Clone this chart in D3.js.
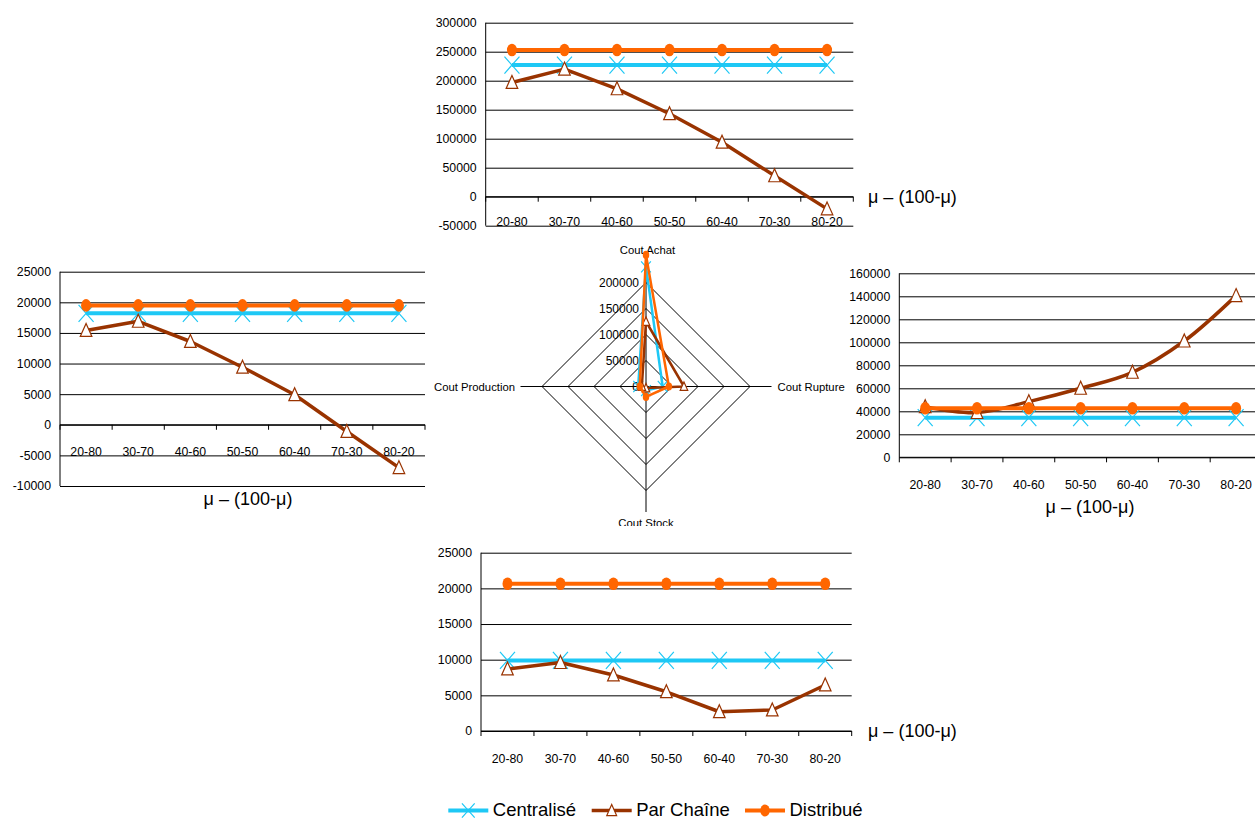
<!DOCTYPE html>
<html><head><meta charset="utf-8">
<script src="https://cdn.jsdelivr.net/npm/d3@7"></script>
<style>
html,body{margin:0;padding:0;background:#fff;}
svg{display:block;font-family:"Liberation Sans",Arial,sans-serif;}
</style></head>
<body>
<svg id="c" width="1255" height="820"></svg>
<script>
// ---------- DATA ----------
const categories = ["20-80","30-70","40-60","50-50","60-40","70-30","80-20"];
const seriesNames = ["Centralisé","Par Chaîne","Distribué"];
const xTitle = "μ – (100-μ)";

// Top chart (Cout Achat)
const achatCentralise = [227000,227000,227000,227000,227000,227000,227000];
const achatParChaine  = [197000,220000,186000,143000,94000,36000,-21000];
const achatDistribue  = [253000,253000,253000,253000,253000,253000,253000];
const achatTicks = [-50000,0,50000,100000,150000,200000,250000,300000];

// Left chart (Cout Production)
const prodCentralise = [18200,18200,18200,18200,18200,18200,18200];
const prodParChaine  = [15400,16900,13600,9400,4900,-1100,-7000];
const prodDistribue  = [19500,19500,19500,19500,19500,19500,19500];
const prodTicks = [-10000,-5000,0,5000,10000,15000,20000,25000];

// Right chart (Cout Rupture)
const ruptCentralise = [34500,34500,34500,34500,34500,34500,34500];
const ruptParChaine  = [44000,38900,48400,60000,73900,101100,140600];
const ruptDistribue  = [42600,42600,42600,42600,42600,42600,42600];
const ruptTicks = [0,20000,40000,60000,80000,100000,120000,140000,160000];

// Bottom chart (Cout Stock)
const stockCentralise = [9900,9900,9900,9900,9900,9900,9900];
const stockParChaine  = [8700,9600,7850,5500,2700,2950,6450];
const stockDistribue  = [20650,20650,20650,20650,20650,20650,20650];
const stockTicks = [0,5000,10000,15000,20000,25000];

// Radar (centre)
const radarAxes = ["Cout Achat","Cout Rupture","Cout Stock","Cout Production"];
const radarCentralise = [230000,32000,8000,15000];
const radarParChaine  = [125000,73000,3000,8000];
const radarDistribue  = [253000,44000,20000,12000];
const radarTicks = [0,50000,100000,150000,200000];

// ---------- STYLE ----------
const colors = {"Centralisé":"#1EC8F5","Par Chaîne":"#993300","Distribué":"#FF6600"};
const markers = {"Centralisé":"cross","Par Chaîne":"triangle","Distribué":"circle"};
const widths = {"Centralisé":4,"Par Chaîne":3.5,"Distribué":4};

const svg = d3.select("#c");
svg.append("rect").attr("width",1255).attr("height",820).attr("fill","#fff");

function drawMarker(g, type, x, y, s){
  if(type==="cross"){
    const hx=7.5*s, hy=8.5*s;
    g.append("path").attr("d",`M${x-hx},${y-hy}L${x+hx},${y+hy}M${x-hx},${y+hy}L${x+hx},${y-hy}`)
      .attr("stroke",colors["Centralisé"]).attr("stroke-width",1.2).attr("fill","none");
  } else if(type==="triangle"){
    const w=5.8*s, h=7*s;
    g.append("path").attr("d",`M${x},${y-h}L${x+w},${y+h*0.85}L${x-w},${y+h*0.85}Z`)
      .attr("stroke",colors["Par Chaîne"]).attr("stroke-width",1.2).attr("fill","#fff");
  } else {
    g.append("ellipse").attr("cx",x).attr("cy",y).attr("rx",5*s).attr("ry",6.3*s)
      .attr("fill",colors["Distribué"]);
  }
}

function lineChart(cfg){
  const g = svg.append("g");
  const x = d3.scaleBand(categories,[cfg.x0,cfg.x1]);
  const y = d3.scaleLinear(cfg.domain,[cfg.yb,cfg.yt]);
  const grid = g.append("g").attr("transform",`translate(${cfg.x0},0)`)
    .call(d3.axisLeft(y).tickValues(cfg.ticks).tickSize(-(cfg.x1-cfg.x0)).tickFormat(""));
  grid.select(".domain").remove();
  grid.selectAll("line").attr("stroke","#000").attr("stroke-width",1);
  const ya = g.append("g").attr("transform",`translate(${cfg.x0},0)`)
    .call(d3.axisLeft(y).tickValues(cfg.ticks).tickSize(0).tickPadding(9).tickFormat(d=>String(d)));
  ya.select(".domain").remove();
  ya.selectAll("text").attr("font-size",12.3).attr("fill","#000").attr("font-family","Liberation Sans, Arial, sans-serif");
  g.append("line").attr("x1",cfg.x0).attr("x2",cfg.x0).attr("y1",y(cfg.domain[1])).attr("y2",y(cfg.domain[0]))
    .attr("stroke","#000");
  const y0 = y(0);
  g.append("line").attr("x1",cfg.x0).attr("x2",cfg.x1).attr("y1",y0).attr("y2",y0).attr("stroke","#000");
  const bounds = categories.map(c=>x(c)).concat([cfg.x1]);
  bounds.forEach(b=>g.append("line").attr("x1",b).attr("x2",b).attr("y1",y0).attr("y2",y0+5).attr("stroke","#000"));
  const xa = g.append("g").attr("transform",`translate(0,${y0+cfg.labOff})`)
    .call(d3.axisBottom(x).tickSize(0).tickPadding(0));
  xa.select(".domain").remove();
  xa.selectAll("text").attr("font-size",12.3).attr("fill","#000").attr("dy","0.35em")
    .attr("font-family","Liberation Sans, Arial, sans-serif");
  g.append("text").attr("x",cfg.tx).attr("y",cfg.ty).attr("dy","0.35em").attr("text-anchor",cfg.tAnchor)
    .attr("font-size",18).text(xTitle);
  cfg.series.forEach((vals,i)=>{
    const name = seriesNames[i];
    const pts = vals.map((v,j)=>[x(categories[j])+x.bandwidth()/2, y(v)]);
    const curve = (cfg.smooth && name==="Par Chaîne") ? d3.curveCatmullRom.alpha(0.5) : d3.curveLinear;
    g.append("path").attr("d",d3.line().curve(curve)(pts)).attr("fill","none")
      .attr("stroke",colors[name]).attr("stroke-width",widths[name]).attr("stroke-linejoin","round");
    pts.forEach(p=>drawMarker(g,markers[name],p[0],p[1],1));
  });
}

// ---------- RADAR ----------
(function(){
  const cx=646, cy=386.5;
  const clip = svg.append("clipPath").attr("id","rclip");
  clip.append("rect").attr("x",400).attr("y",230).attr("width",450).attr("height",296);
  const g = svg.append("g").attr("clip-path","url(#rclip)");
  const r = d3.scaleLinear([0,200000],[0,104]);
  const axisLen = 125.5;
  const ang = i => i*Math.PI/2;
  const pt = (i,v) => [cx + Math.sin(ang(i))*r(v), cy - Math.cos(ang(i))*r(v)];
  radarTicks.filter(t=>t>0).forEach(t=>{
    const poly = radarAxes.map((a,i)=>pt(i,t));
    g.append("path").attr("d",d3.line()(poly)+"Z").attr("fill","none").attr("stroke","#000").attr("stroke-width",1);
  });
  radarAxes.forEach((a,i)=>{
    g.append("line").attr("x1",cx).attr("y1",cy)
      .attr("x2",cx+Math.sin(ang(i))*axisLen).attr("y2",cy-Math.cos(ang(i))*axisLen)
      .attr("stroke","#000").attr("stroke-width",1);
  });
  const lab = [
    {x:cx+1.5, y:250, a:"middle"},
    {x:cx+axisLen+6, y:cy+0.5, a:"start"},
    {x:cx, y:523, a:"middle"},
    {x:cx-axisLen-5.5, y:cy+0.5, a:"end"}
  ];
  radarAxes.forEach((a,i)=>{
    g.append("text").attr("x",lab[i].x).attr("y",lab[i].y).attr("dy","0.35em")
      .attr("text-anchor",lab[i].a).attr("font-size",11.3).text(a);
  });
  radarTicks.forEach(t=>{
    g.append("text").attr("x",cx-7).attr("y",cy-r(t)).attr("dy","0.35em").attr("text-anchor","end")
      .attr("font-size",12).text(String(t));
  });
  [radarCentralise,radarParChaine,radarDistribue].forEach((vals,k)=>{
    const name = seriesNames[k];
    const poly = vals.map((v,i)=>pt(i,v));
    g.append("path").attr("d",d3.line()(poly)+"Z").attr("fill","none")
      .attr("stroke",colors[name]).attr("stroke-width",2.5).attr("stroke-linejoin","round");
    poly.forEach(p=>drawMarker(g,markers[name],p[0],p[1],0.65));
  });
})();

// ---------- LINE CHARTS ----------
lineChart({x0:485.7,x1:853.3,domain:[-50000,300000],yb:225.7,yt:22.7,ticks:achatTicks,labOff:25,
  tx:868,ty:197,tAnchor:"start",series:[achatCentralise,achatParChaine,achatDistribue]});
lineChart({x0:60,x1:425,domain:[-10000,25000],yb:486,yt:271.7,ticks:prodTicks,labOff:26.5,
  tx:248,ty:499,tAnchor:"middle",series:[prodCentralise,prodParChaine,prodDistribue]});
lineChart({x0:899.3,x1:1262,domain:[0,160000],yb:457.3,yt:273.3,ticks:ruptTicks,labOff:27.5,smooth:true,
  tx:1090,ty:507,tAnchor:"middle",series:[ruptCentralise,ruptParChaine,ruptDistribue]});
lineChart({x0:481,x1:851.7,domain:[0,25000],yb:731,yt:552.7,ticks:stockTicks,labOff:27.3,
  tx:868,ty:731,tAnchor:"start",series:[stockCentralise,stockParChaine,stockDistribue]});

// ---------- LEGEND ----------
(function(){
  const g = svg.append("g");
  const items = [{x:448.3},{x:591.7},{x:745}];
  const ly = 810.5;
  seriesNames.forEach((n,i)=>{
    const x = items[i].x;
    g.append("line").attr("x1",x).attr("x2",x+40).attr("y1",ly).attr("y2",ly)
      .attr("stroke",colors[n]).attr("stroke-width",widths[n]);
    drawMarker(g,markers[n],x+20,ly,n==="Distribué"?0.95:0.85);
    g.append("text").attr("x",x+44.5).attr("y",ly - 1).attr("dy","0.35em").attr("font-size",18.5).text(n);
  });
})();
</script>
</body></html>
